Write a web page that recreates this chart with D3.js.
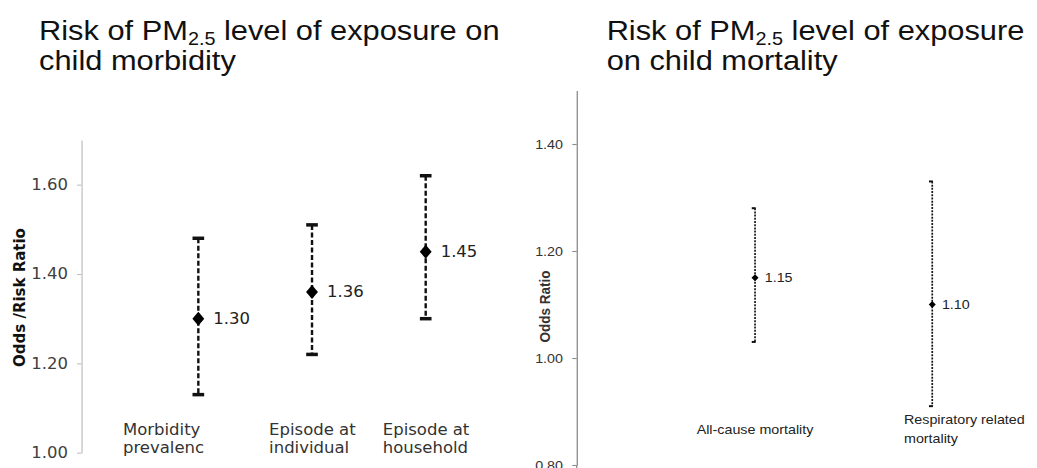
<!DOCTYPE html>
<html>
<head>
<meta charset="utf-8">
<script src="https://cdn.jsdelivr.net/npm/d3@7"></script>
<style>
  html, body { margin: 0; padding: 0; background: #fff; }
  svg { display: block; }
</style>
</head>
<body>
<svg id="chart"></svg>
<script>
// ---------- DATA ----------
const morbCategories = ["Morbidity prevalence", "Episode at individual", "Episode at household"];
const morbLabelLines = [["Morbidity", "prevalenc"], ["Episode at", "individual"], ["Episode at", "household"]];
const morbEstimate = [1.30, 1.36, 1.45];
const morbLower    = [1.13, 1.22, 1.30];
const morbUpper    = [1.48, 1.51, 1.62];
const morbTicks    = [1.00, 1.20, 1.40, 1.60];

const mortCategories = ["All-cause mortality", "Respiratory related mortality"];
const mortLabelLines = [["All-cause mortality"], ["Respiratory related", "mortality"]];
const mortEstimate = [1.15, 1.10];
const mortLower    = [1.03, 0.91];
const mortUpper    = [1.28, 1.33];
const mortTicks    = [0.80, 1.00, 1.20, 1.40];

// ---------- LAYOUT ----------
const W = 1037, H = 468, SX = 1.1;          // picture is horizontally stretched
const LW = W / SX;                           // logical width
const svg = d3.select("#chart")
  .attr("width", W).attr("height", H)
  .attr("viewBox", `0 0 ${LW} ${H}`)
  .attr("preserveAspectRatio", "none");

const fmt = d3.format(".2f");

// Titles
function title(x, lines) {
  const t = svg.append("text")
    .attr("font-family", "'Liberation Sans', Arial, sans-serif")
    .attr("font-size", 28).attr("fill", "#111");
  lines.forEach((ln, i) => {
    const y = 40 + i * 30;
    if (ln.sub) {
      const tl = svg.append("text")
        .attr("x", x).attr("y", y)
        .attr("font-family", "'Liberation Sans', Arial, sans-serif")
        .attr("font-size", 28).attr("fill", "#111");
      tl.append("tspan").text(ln.pre);
      tl.append("tspan").attr("font-size", 18).attr("dy", 5).text(ln.sub);
      tl.append("tspan").attr("dy", -5).text(ln.post);
    } else {
      svg.append("text")
        .attr("x", x).attr("y", y)
        .attr("font-family", "'Liberation Sans', Arial, sans-serif")
        .attr("font-size", 28).attr("fill", "#111")
        .text(ln.text);
    }
  });
  t.remove();
}
title(35.5, [{pre: "Risk of PM", sub: "2.5", post: " level of exposure on"}, {text: "child morbidity"}]);
title(551.5, [{pre: "Risk of PM", sub: "2.5", post: " level of exposure"}, {text: "on child mortality"}]);

function diamond(cx, cy, hw, hh) {
  const p = d3.path();
  p.moveTo(cx, cy - hh); p.lineTo(cx + hw, cy); p.lineTo(cx, cy + hh); p.lineTo(cx - hw, cy); p.closePath();
  return p.toString();
}

// ---------- LEFT: morbidity ----------
{
  const axisX = 74.1;
  const y = d3.scaleLinear().domain([1.0, 1.7]).range([452.7, 140]);
  const x = d3.scalePoint().domain(morbCategories).range([180.3, 387]);
  const font = "'DejaVu Sans', Verdana, sans-serif";

  const ax = svg.append("g").attr("transform", `translate(${axisX},0)`)
    .call(d3.axisLeft(y).tickValues(morbTicks).tickFormat(fmt).tickSize(4).tickSizeOuter(0).tickPadding(8.3));
  ax.select(".domain").attr("stroke", "#bfbfbf").attr("stroke-width", 1.1);
  ax.selectAll(".tick line").attr("stroke", "#bfbfbf").attr("stroke-width", 1.1);
  ax.selectAll(".tick text").attr("font-family", font).attr("font-size", 15).attr("fill", "#404040");

  svg.append("text")
    .attr("transform", `translate(17.3,297.5) rotate(-90)`)
    .attr("text-anchor", "middle").attr("dominant-baseline", "central")
    .attr("font-family", font).attr("font-size", 15).attr("font-weight", "bold").attr("fill", "#111")
    .text("Odds /Risk Ratio");

  const g = svg.append("g");
  morbCategories.forEach((c, i) => {
    const cx = x(c);
    g.append("line").attr("x1", cx).attr("x2", cx)
      .attr("y1", y(morbUpper[i])).attr("y2", y(morbLower[i]))
      .attr("stroke", "#111").attr("stroke-width", 2.2).attr("stroke-dasharray", "5,2.5");
    [morbUpper[i], morbLower[i]].forEach(v => {
      g.append("line").attr("x1", cx - 5.3).attr("x2", cx + 5.3)
        .attr("y1", y(v)).attr("y2", y(v))
        .attr("stroke", "#111").attr("stroke-width", 3.5);
    });
    g.append("path").attr("d", diamond(cx, y(morbEstimate[i]), 5.4, 7)).attr("fill", "#000");
    g.append("text").attr("x", cx + 13.6).attr("y", y(morbEstimate[i]))
      .attr("dominant-baseline", "central")
      .attr("font-family", font).attr("font-size", 15).attr("fill", "#222")
      .text(fmt(morbEstimate[i]));
  });
  const offsets = [-68.5, -39, -39];
  morbCategories.forEach((c, i) => {
    const t = g.append("text").attr("font-family", font).attr("font-size", 15).attr("fill", "#333");
    morbLabelLines[i].forEach((ln, j) => {
      t.append("tspan").attr("x", x(c) + offsets[i]).attr("y", 435.5 + j * 18).text(ln);
    });
  });
}

// ---------- RIGHT: mortality ----------
{
  const axisX = 524.3;
  const y = d3.scaleLinear().domain([0.8, 1.5]).range([465, 90.5]);
  const x = d3.scalePoint().domain(mortCategories).range([686.4, 847.5]);
  const font = "'Liberation Sans', Arial, sans-serif";

  const ax = svg.append("g").attr("transform", `translate(${axisX},0)`)
    .call(d3.axisLeft(y).tickValues(mortTicks).tickFormat(fmt).tickSize(4).tickSizeOuter(0).tickPadding(8.5));
  ax.select(".domain").attr("stroke", "#8c8c8c").attr("stroke-width", 1.2);
  ax.selectAll(".tick line").attr("stroke", "#8c8c8c").attr("stroke-width", 1.1);
  ax.selectAll(".tick text").attr("font-family", font).attr("font-size", 13).attr("fill", "#333");
  // extend the axis line to the bottom edge
  svg.append("line").attr("x1", axisX).attr("x2", axisX).attr("y1", y(0.8)).attr("y2", H)
    .attr("stroke", "#8c8c8c").attr("stroke-width", 1.2);

  svg.append("text")
    .attr("transform", `translate(495.5,306.5) rotate(-90)`)
    .attr("text-anchor", "middle").attr("dominant-baseline", "central")
    .attr("font-family", font).attr("font-size", 13.5).attr("font-weight", "bold").attr("fill", "#333")
    .text("Odds Ratio");

  const g = svg.append("g");
  mortCategories.forEach((c, i) => {
    const cx = x(c);
    g.append("line").attr("x1", cx).attr("x2", cx)
      .attr("y1", y(mortUpper[i])).attr("y2", y(mortLower[i]))
      .attr("stroke", "#111").attr("stroke-width", 1.5).attr("stroke-dasharray", "2,1.2");
    [mortUpper[i], mortLower[i]].forEach(v => {
      g.append("line").attr("x1", cx - 3).attr("x2", cx + 0.6)
        .attr("y1", y(v)).attr("y2", y(v))
        .attr("stroke", "#111").attr("stroke-width", 2);
    });
    g.append("path").attr("d", diamond(cx, y(mortEstimate[i]), 3.2, 3.6)).attr("fill", "#000");
    g.append("text").attr("x", cx + 8.8).attr("y", y(mortEstimate[i]))
      .attr("dominant-baseline", "central")
      .attr("font-family", font).attr("font-size", 13).attr("fill", "#222")
      .text(fmt(mortEstimate[i]));
  });
  // category labels
  const t0 = g.append("text").attr("font-family", font).attr("font-size", 13).attr("fill", "#222")
    .attr("text-anchor", "middle");
  t0.append("tspan").attr("x", x(mortCategories[0])).attr("y", 434.5).text(mortLabelLines[0][0]);
  const t1 = g.append("text").attr("font-family", font).attr("font-size", 13).attr("fill", "#222");
  mortLabelLines[1].forEach((ln, j) => {
    t1.append("tspan").attr("x", x(mortCategories[1]) - 25.7).attr("y", 424.5 + j * 18.5).text(ln);
  });
}
</script>
</body>
</html>
